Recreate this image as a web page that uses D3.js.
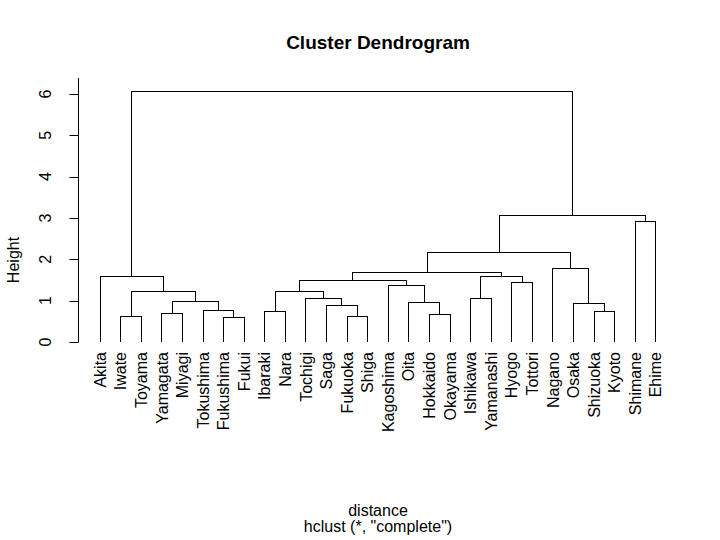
<!DOCTYPE html>
<html>
<head>
<meta charset="utf-8">
<script src="https://cdn.jsdelivr.net/npm/d3@7"></script>
<style>
  html, body { margin: 0; padding: 0; background: #fff; }
  text { font-family: "Liberation Sans", Arial, Helvetica, sans-serif; fill: #000; }
</style>
</head>
<body>
<svg id="chart" width="720" height="540"></svg>
<script>
// Leaf labels in plotting order
const labels = ["Akita","Iwate","Toyama","Yamagata","Miyagi","Tokushima","Fukushima","Fukui",
  "Ibaraki","Nara","Tochigi","Saga","Fukuoka","Shiga","Kagoshima","Oita","Hokkaido","Okayama",
  "Ishikawa","Yamanashi","Hyogo","Tottori","Nagano","Osaka","Shizuoka","Kyoto","Shimane","Ehime"];

// Merge table (R hclust convention): negative = leaf index (1-based), positive = earlier merge step
const mergeA = [-7, -2, -13, -17, -4, -9, -25, -6, -12, -24, -16, 5, -11, -19, 6, 2, -15, -21, 15, -1, 14, 19, -23, 22, -27, 24, 20];
const mergeB = [-8, -3, -14, -18, -5, -10, -26, 1, 3, 7, 4, 8, 9, -20, 13, 12, 11, -22, 17, 16, 18, 21, 10, 23, -28, 25, 26];
const mergeHeight = [0.60, 0.61, 0.62, 0.66, 0.68, 0.73, 0.75, 0.77, 0.89, 0.94, 0.95, 0.99, 1.06, 1.06,
  1.22, 1.23, 1.36, 1.45, 1.50, 1.58, 1.59, 1.69, 1.78, 2.16, 2.91, 3.07, 6.05];

const yTicks = [0, 1, 2, 3, 4, 5, 6];

const svg = d3.select("#chart");
const n = labels.length;

const x = d3.scaleLinear().domain([1 - 0.04 * (n - 1), n + 0.04 * (n - 1)]).range([78, 678]);
const y = d3.scaleLinear().domain([0, 6]).range([342, 94]);

// positions of merges
const mx = [], mh = [];
function childPos(v) {
  if (v < 0) return { x: x(-v), h: 0 };
  return { x: mx[v - 1], h: mh[v - 1] };
}
const g = svg.append("g");
for (let i = 0; i < mergeA.length; i++) {
  const a = childPos(mergeA[i]);
  const b = childPos(mergeB[i]);
  const h = mergeHeight[i];
  mx.push((a.x + b.x) / 2);
  mh.push(h);
  const p = d3.path();
  p.moveTo(a.x, y(a.h));
  p.lineTo(a.x, y(h));
  p.lineTo(b.x, y(h));
  p.lineTo(b.x, y(b.h));
  g.append("path").attr("d", p.toString())
    .attr("fill", "none").attr("stroke", "#000").attr("stroke-width", 1)
    .attr("shape-rendering", "crispEdges");
}

// leaf labels
svg.append("g").selectAll("text").data(labels).join("text")
  .attr("transform", (d, i) => `translate(${x(i + 1)},352) rotate(-90)`)
  .attr("dy", "0.35em")
  .attr("text-anchor", "end")
  .attr("font-size", 16)
  .text(d => d);

// y axis
const yAxis = svg.append("g").attr("transform", "translate(78.5,0)");
yAxis.append("line").attr("x1", 0).attr("x2", 0).attr("y1", 78).attr("y2", y(0))
  .attr("stroke", "#000").attr("shape-rendering", "crispEdges");
yAxis.selectAll("line.tick").data(yTicks).join("line").attr("class", "tick")
  .attr("x1", -9).attr("x2", 0).attr("y1", d => Math.round(y(d)) + 0.5).attr("y2", d => Math.round(y(d)) + 0.5)
  .attr("stroke", "#000");
yAxis.selectAll("text").data(yTicks).join("text")
  .attr("transform", d => `translate(-33,${y(d)}) rotate(-90)`)
  .attr("dy", "0.35em")
  .attr("text-anchor", "middle")
  .attr("font-size", 16)
  .text(d => d);

// titles
svg.append("text").attr("x", 378).attr("y", 49).attr("text-anchor", "middle")
  .attr("font-size", 19).attr("font-weight", "bold").text("Cluster Dendrogram");
svg.append("text").attr("x", 378).attr("y", 516).attr("text-anchor", "middle")
  .attr("font-size", 16).text("distance");
svg.append("text").attr("x", 378).attr("y", 532).attr("text-anchor", "middle")
  .attr("font-size", 16).text('hclust (*, "complete")');
svg.append("text").attr("transform", "translate(13,260) rotate(-90)")
  .attr("dy", "0.35em").attr("text-anchor", "middle")
  .attr("font-size", 16).text("Height");
</script>
</body>
</html>
